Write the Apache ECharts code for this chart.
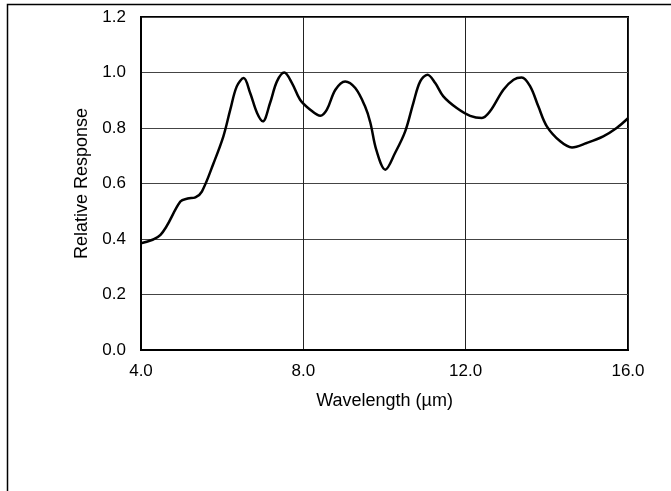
<!DOCTYPE html>
<html>
<head>
<meta charset="utf-8">
<script src="https://cdn.jsdelivr.net/npm/echarts@6/dist/echarts.min.js"></script>
<style>
html,body{margin:0;padding:0;background:#fff;}
#chart{width:671px;height:491px;}
</style>
</head>
<body>
<div id="chart"></div>
<script>
const wavelength = [4.0,4.48,4.97,5.15,5.34,5.50,5.79,6.03,6.20,6.36,6.53,6.69,6.86,7.0,7.18,7.35,7.53,7.72,7.92,8.17,8.42,8.58,8.79,9.03,9.28,9.52,9.65,9.80,10.02,10.26,10.51,10.71,10.88,11.06,11.25,11.45,11.78,12.11,12.40,12.60,12.93,13.18,13.38,13.59,13.79,14.0,14.33,14.62,14.98,15.39,15.72,16.0];
const response = [0.385,0.415,0.535,0.546,0.550,0.571,0.674,0.770,0.866,0.95,0.98,0.926,0.854,0.824,0.89,0.968,1.0,0.962,0.902,0.866,0.844,0.866,0.938,0.968,0.944,0.878,0.82,0.72,0.65,0.71,0.788,0.89,0.968,0.992,0.962,0.914,0.872,0.844,0.836,0.86,0.938,0.974,0.982,0.95,0.878,0.806,0.752,0.73,0.746,0.77,0.80,0.835];
const xTicks = [4,8,12,16];
const yTicks = [0,0.2,0.4,0.6,0.8,1.0,1.2];
const xName = 'Wavelength (µm)';
const yName = 'Relative Response';

const chart = echarts.init(document.getElementById('chart'), null, {renderer:'canvas'});
const font = 'Liberation Sans, Arial, Helvetica, sans-serif';
chart.setOption({
  animation:false,
  backgroundColor:'#fff',
  graphic:[{type:'rect', shape:{x:7.5,y:4.5,width:720,height:600}, style:{fill:'none',stroke:'#000',lineWidth:1.5}, silent:true}],
  grid:{left:141,right:43,top:17,bottom:141,show:true,borderColor:'#000',borderWidth:2,backgroundColor:'transparent'},
  xAxis:{type:'value',min:xTicks[0],max:xTicks[xTicks.length-1],interval:4,
    name:xName,nameLocation:'middle',nameGap:42,
    nameTextStyle:{fontFamily:font,fontSize:18,color:'#000'},
    axisLine:{show:true,lineStyle:{color:'#000',width:2}},
    axisTick:{show:false},
    axisLabel:{fontFamily:font,fontSize:17,color:'#000',margin:13,formatter:v=>v.toFixed(1)},
    splitLine:{show:true,lineStyle:{color:'#222',width:1}}},
  yAxis:{type:'value',min:yTicks[0],max:yTicks[yTicks.length-1],interval:0.2,
    name:yName,nameLocation:'middle',nameGap:50,nameRotate:90,
    nameTextStyle:{fontFamily:font,fontSize:18,color:'#000'},
    axisLine:{show:true,lineStyle:{color:'#000',width:2}},
    axisTick:{show:false},
    axisLabel:{fontFamily:font,fontSize:17,color:'#000',margin:15,formatter:v=>v.toFixed(1)},
    splitLine:{show:true,lineStyle:{color:'#444',width:1}}},
  series:[{type:'line',data:wavelength.map((w,i)=>[w,response[i]]),smooth:0.35,showSymbol:false,
    lineStyle:{color:'#000',width:2.5}}]
});
</script>
</body>
</html>
